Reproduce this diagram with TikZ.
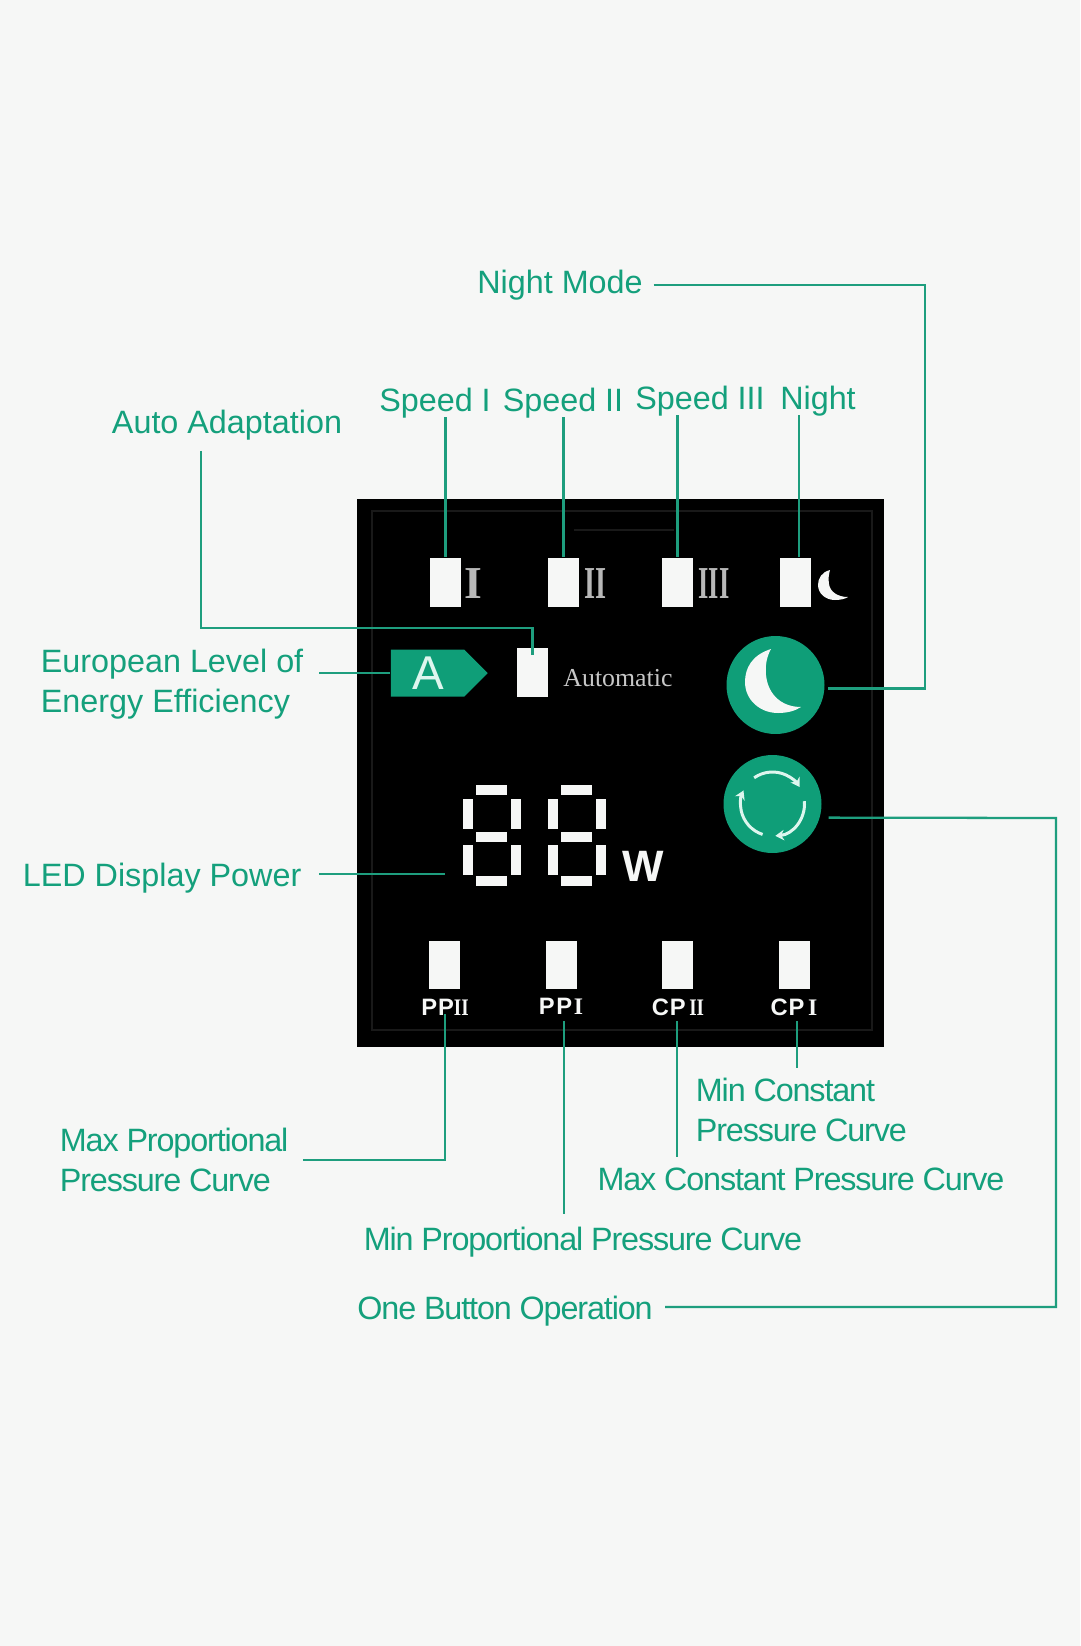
\documentclass[tikz,border=0pt]{standalone}
\usepackage{fontspec}
\setmainfont{Liberation Sans}
\newfontfamily\romanfont{Liberation Serif}
\newfontfamily\tightfont[LetterSpace=-3.5]{Liberation Sans}
\usepackage{xcolor}
\usetikzlibrary{arrows.meta, positioning, calc, shapes.symbols}
\definecolor{pagebg}{HTML}{F6F7F6}
\definecolor{pumpgreen}{HTML}{0F9E78}
\definecolor{leadgreen}{HTML}{1E9E7E}
\definecolor{labgreen}{HTML}{14A07C}
\definecolor{lampwhite}{HTML}{F6F7F6}
\definecolor{mintwhite}{HTML}{DDF6EE}

\begin{document}
\begin{tikzpicture}[
  x=0.02cm, y=-0.02cm,
  lab/.style={text=labgreen, inner sep=6pt, font=\fontsize{18.4}{22.6}\selectfont, align=left},
  tlab/.style={text=labgreen, inner sep=6pt, font=\fontsize{18.4}{22.6}\selectfont\tightfont, align=left},
  lamp/.style={fill=lampwhite, inner sep=0pt, minimum width=0.62cm, minimum height=0.98cm},
  btn/.style={circle, fill=pumpgreen, inner sep=0pt, minimum size=1.96cm},
  numeral/.style={text=black!28, inner sep=0pt, font=\fontsize{26}{26}\selectfont\romanfont\bfseries},
  ptag/.style={text=lampwhite, inner sep=1pt, font=\fontsize{13.5}{14}\selectfont\bfseries},
  seg/.style={fill=lampwhite},
  lead/.style={draw=leadgreen, line width=1.3pt},
]

% ---- Page and panel --------------------------------------------------------
\fill[pagebg] (0,0) rectangle (1080,1646);
\useasboundingbox (0,0) rectangle (1080,1646);
\node[fill=black, inner sep=0pt, minimum width=10.54cm, minimum height=10.96cm] (panel) at (620.5,773) {};
\draw[black!90!white, line width=0.6pt] (372,511) rectangle (872,1030);
\draw[black!90!white, line width=0.6pt] (574,530) -- (674,530);

% ---- Upper lamps -----------------------------------------------------------
\node[lamp] (lampI) at (445.5,582) {};
\node[lamp] (lampII) at (563.5,582) {};
\node[lamp] (lampIII) at (677.5,582) {};
\node[lamp] (lampN) at (795.5,582) {};
\node[numeral] (numI) at (473,584) {I};
\node[numeral] (numII) at (595.5,584) {\scalebox{0.62}[1]{II}};
\node[numeral] (numIII) at (714,584) {\scalebox{0.58}[1]{III}};
\fill[lampwhite] (830,570) .. controls (822,572) and (818,578) .. (818,585)
  .. controls (818,593) and (825,600) .. (835,600)
  .. controls (840,600) and (845,599) .. (848,597)
  .. controls (838,597) and (830,592) .. (829,584)
  .. controls (828,578) and (829,574) .. cycle;

% ---- Energy tag and automatic lamp -----------------------------------------
\node[signal, signal to=east, signal pointer angle=90, fill=pumpgreen, inner sep=0pt,
  minimum width=1.94cm, minimum height=0.94cm] (tag) at (427.5,673) {};
\node[text=mintwhite, inner sep=0pt, font=\fontsize{27}{27}\selectfont] (tagA) at (428,673) {A};
\node[lamp] (lampA) at (532.5,672.5) {};
\node[text=black!22, inner sep=0pt, font=\fontsize{14.7}{15}\selectfont\romanfont] (autotxt) at (618,678) {Automatic};

% ---- Round buttons ---------------------------------------------------------
\node[btn] (nightbtn) at (775.5,685) {};
\fill[lampwhite] (771,649) .. controls (752,655) and (745,668) .. (745,682)
  .. controls (745,700) and (760,713) .. (778,713)
  .. controls (787,713) and (795,711) .. (801,707)
  .. controls (782,707) and (768,695) .. (766,675)
  .. controls (765,665) and (767,656) .. cycle;
\node[btn] (cyclebtn) at (772.5,804) {};
\foreach \a/\b in {-125/-32, -5/85, 108/205} {
  \draw[mintwhite, line width=1.7pt, -{Stealth[length=5pt, width=6pt]}]
    ($(cyclebtn)+(\a:32)$) arc[start angle=\a, end angle=\b, radius=32];
}

% ---- LED digits ------------------------------------------------------------
\foreach \d in {0,85} {
  \foreach \y in {785,832,876} {
    \fill[seg] ({476+\d},\y) rectangle ++(31,10);
  }
  \foreach \x in {463,511} {
    \fill[seg] ({\x+\d},799) rectangle ++(10,30);
    \fill[seg] ({\x+\d},845) rectangle ++(10,30);
  }
}
\node[text=lampwhite, inner sep=0pt, font=\fontsize{25}{25}\selectfont\bfseries] (watt) at (643,866) {W};

% ---- Lower lamps -----------------------------------------------------------
\node[lamp, minimum height=0.96cm] (lampPPII) at (444,965) {};
\node[lamp, minimum height=0.96cm] (lampPPI) at (561,965) {};
\node[lamp, minimum height=0.96cm] (lampCPII) at (677.5,965) {};
\node[lamp, minimum height=0.96cm] (lampCPI) at (794.5,965) {};
\node[ptag] (PPII) at (445,1007) {P\kern0.5pt P{\romanfont\scalebox{0.8}[1]{II}}};
\node[ptag] (PPI) at (561,1006) {P\kern1pt P\kern1pt{\romanfont I}};
\node[ptag] (CPII) at (678,1007) {C\kern0.5pt P\kern2pt{\romanfont\scalebox{0.8}[1]{II}}};
\node[ptag] (CPI) at (794,1007) {C\kern0.5pt P\kern2pt{\romanfont I}};

% ---- Labels ----------------------------------------------------------------
\node[lab] (nightmode) at (560,285) {Night Mode};
\node[lab] (speedI) at (435,403) {Speed I};
\node[lab] (speedII) at (563,403) {Speed II};
\node[lab] (speedIII) at (700,401) {Speed III};
\node[lab] (speedN) at (818,401) {Night};
\node[lab] (autolab) at (227,425) {Auto Adaptation};
\node[lab, anchor=west] (energylab) at (30,684) {European Level of\\Energy Efficiency};
\node[lab, anchor=west] (ledlab) at (12,878) {LED Display Power};
\node[tlab, anchor=west] (maxprop) at (49,1160) {Max Proportional\\Pressure Curve};
\node[tlab] (minprop) at (583,1242) {Min Proportional Pressure Curve};
\node[tlab] (maxconst) at (801,1179) {Max Constant Pressure Curve};
\node[tlab, anchor=west] (minconst) at (685,1110) {Min Constant\\Pressure Curve};
\node[tlab] (onebtn) at (505,1311) {One Button Operation};

% ---- Bends and free ends ---------------------------------------------------
\coordinate (nightbend) at (925,285);
\coordinate (autobend) at (201,628);
\coordinate (cyclebend) at (1056,818);
\coordinate (ledend) at (445,874);
\coordinate (nightup) at (799,557);
\coordinate (minpropup) at (564,1021);
\coordinate (maxconstup) at (677,1021);
\coordinate (minconstup) at (797,1021);
\coordinate (onestart) at (665,1307);

% ---- Leaders ---------------------------------------------------------------
\draw[lead, shorten >=-7pt] (lampI.north) -- (lampI.north |- speedI.south);
\draw[lead, shorten >=-7pt] (lampII.north) -- (lampII.north |- speedII.south);
\draw[lead, shorten >=-7pt] (lampIII.north) -- (lampIII.north |- speedIII.south);
\draw[lead, shorten >=-7pt] (nightup) -- (nightup |- speedN.south);
\draw[lead, shorten >=2pt] (nightmode.east |- nightbend) -- (nightbend) |- (nightbtn.-4);
\draw[lead, shorten >=-4pt] (autolab.south -| autobend) -- (autobend) -| (lampA.north);
\draw[lead, shorten <=3pt] (energylab.east |- tag.west) -- (tag.west);
\draw[lead, shorten <=4pt] (ledlab.east |- ledend) -- (ledend);
\draw[lead, shorten <=2pt, shorten >=-2pt] (maxprop.east) -| (PPII.south);
\draw[lead, shorten >=1.4pt] (minpropup) -- (minpropup |- minprop.north);
\draw[lead, shorten >=-0.3pt] (maxconstup) -- (maxconstup |- maxconst.north);
\draw[lead, shorten >=-0.3pt] (minconstup) -- (minconstup |- minconst.north);
\draw[lead, shorten >=5pt] (onestart) -| (cyclebend) -- (cyclebtn.-16);

\end{tikzpicture}
\end{document}
